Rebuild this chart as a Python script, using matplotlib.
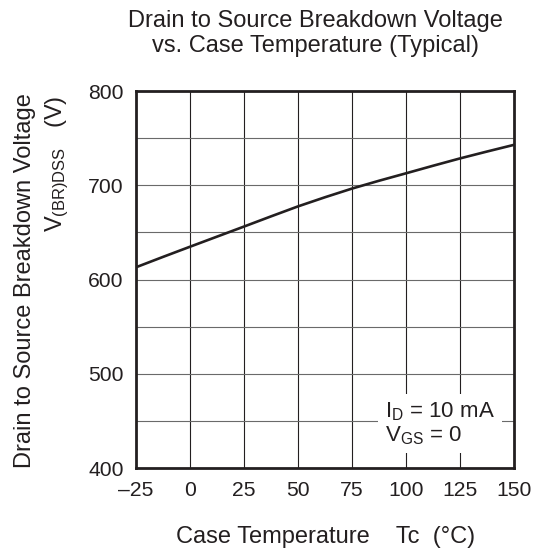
import matplotlib
matplotlib.use("Agg")
import matplotlib.pyplot as plt

plt.rcParams['font.family'] = ['Liberation Sans', 'DejaVu Sans']
plt.rcParams['mathtext.fontset'] = 'custom'
plt.rcParams['mathtext.rm'] = 'Liberation Sans'
plt.rcParams['mathtext.it'] = 'Liberation Sans'

# case temperature (degC) and typical V(BR)DSS (V)
temps = [-25, -12.5, 0, 12.5, 25, 37.5, 50, 62.5, 75, 87.5, 100, 112.5, 125, 137.5, 150]
vbr = [613, 624, 634.8, 645.5, 656.2, 667, 677.6, 687.3, 696.5, 704.8, 712.7, 720.7,
       728.5, 735.8, 742.9]

xticks = [-25, 0, 25, 50, 75, 100, 125, 150]
xlabels = ['\u201325', '0', '25', '50', '75', '100', '125', '150']
yticks = [400, 500, 600, 700, 800]
ygrid = [450, 500, 550, 600, 650, 700, 750]

ink = '#231f20'

fig = plt.figure(figsize=(5.4, 5.53), dpi=100)
ax = fig.add_axes([0.2519, 0.1537, 0.9519 - 0.2519, 0.8354 - 0.1537])

ax.set_xlim(-25, 150)
ax.set_ylim(400, 800)

for x in xticks[1:-1]:
    ax.axvline(x, color=ink, lw=0.8, zorder=1)
for y in ygrid:
    ax.axhline(y, color='#6a6a6a', lw=0.8, zorder=1)

ax.plot(temps, vbr, color=ink, lw=1.9, zorder=3, solid_joinstyle='round')

ax.set_xticks(xticks)
ax.set_xticklabels(xlabels)
ax.set_yticks(yticks)
ax.tick_params(length=0, labelsize=15.2, colors=ink, pad=9)
for s in ax.spines.values():
    s.set_linewidth(2.0)
    s.set_color(ink)

ax.text(90.3, 447, 'I$_\\mathrm{D}$ = 10 mA\nV$_\\mathrm{GS}$ = 0', fontsize=16,
        color=ink, ha='left', va='center', linespacing=1.05, zorder=4,
        bbox=dict(boxstyle='square,pad=0.3', fc='white', ec='none'))

fig.text(0.585, 0.982, 'Drain to Source Breakdown Voltage\nvs. Case Temperature (Typical)',
         ha='center', va='top', fontsize=17, color=ink, linespacing=1.15)
fig.text(0.602, 0.029, 'Case Temperature    Tc  (\u00b0C)', ha='center', va='center',
         fontsize=17, color=ink)
fig.text(0.046, 0.832, 'Drain to Source Breakdown Voltage', rotation=90,
         ha='center', va='top', fontsize=17, color=ink)
fig.text(0.107, 0.828, 'V$_\\mathrm{(BR)DSS}$   (V)', rotation=90,
         ha='center', va='top', fontsize=17, color=ink)

fig.savefig('out.png', dpi=100)
